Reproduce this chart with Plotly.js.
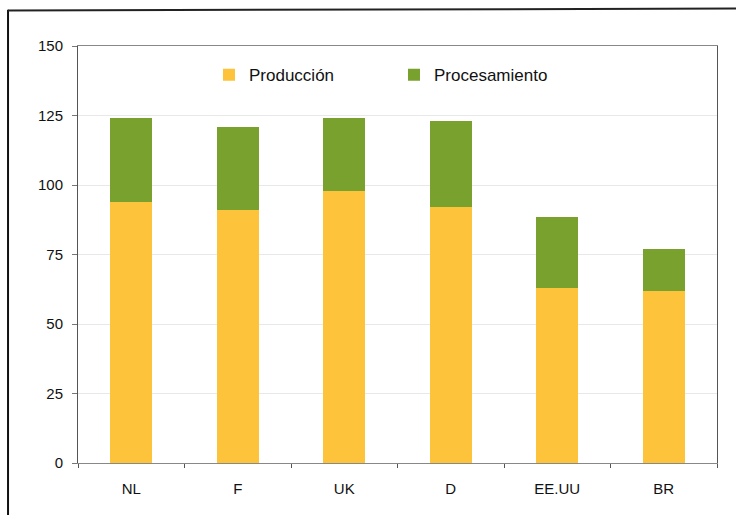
<!DOCTYPE html>
<html>
<head>
<meta charset="utf-8">
<script src="https://cdn.plot.ly/plotly-3.0.1.min.js"></script>
<style>
  html, body { margin: 0; padding: 0; background: #ffffff; }
  #chart { width: 736px; height: 515px; }
</style>
</head>
<body>
<div id="chart"></div>
<script>
// Countries on the category axis
const paises = ["NL", "F", "UK", "D", "EE.UU", "BR"];
// Stacked components per country
const produccion = [94, 91, 98, 92, 63, 62];
const procesamiento = [30, 30, 26, 31, 25.5, 15];
// Value axis ticks
const yTicks = [0, 25, 50, 75, 100, 125, 150];

const FONT = "Liberation Sans, Arial, sans-serif";

const traces = [
  {
    type: "bar",
    name: "Producción",
    x: paises,
    y: produccion,
    marker: { color: "#fdc33a" },
    width: 0.39
  },
  {
    type: "bar",
    name: "Procesamiento",
    x: paises,
    y: procesamiento,
    marker: { color: "#78a22d" },
    width: 0.39
  }
];

const layout = {
  width: 736,
  height: 515,
  barmode: "stack",
  paper_bgcolor: "#ffffff",
  plot_bgcolor: "#ffffff",
  margin: { l: 78, r: 19, t: 46, b: 52 },
  font: { family: FONT, size: 15, color: "#111111" },
  showlegend: true,
  legend: {
    orientation: "h",
    x: 0.205,
    xanchor: "left",
    y: 0.93,
    yanchor: "middle",
    entrywidth: 140,
    entrywidthmode: "pixels",
    itemwidth: 30,
    font: { family: FONT, size: 17, color: "#111111" },
    bgcolor: "rgba(0,0,0,0)",
    traceorder: "normal"
  },
  xaxis: {
    type: "category",
    tickson: "boundaries",
    ticks: "outside",
    ticklen: 4,
    tickcolor: "#555555",
    ticklabelstandoff: 12,
    showline: true,
    linecolor: "#888888",
    linewidth: 1,
    mirror: true,
    showgrid: false,
    tickfont: { family: FONT, size: 15, color: "#111111" },
    fixedrange: true
  },
  yaxis: {
    range: [0, 150],
    tickvals: yTicks,
    ticktext: yTicks.map(String),
    ticks: "outside",
    ticklen: 5,
    tickcolor: "#777777",
    ticklabelstandoff: 6,
    showline: true,
    linecolor: "#555555",
    linewidth: 1,
    mirror: true,
    showgrid: true,
    gridcolor: "#e8e8e8",
    gridwidth: 1,
    zeroline: false,
    tickfont: { family: FONT, size: 15, color: "#111111" },
    fixedrange: true
  },
  shapes: [
    // outer frame: left and top edges
    {
      type: "line", xref: "paper", yref: "paper",
      x0: -0.1095, x1: -0.1095, y0: 1.087, y1: -0.15,
      line: { color: "#111111", width: 2 }
    },
    {
      type: "line", xref: "paper", yref: "paper",
      x0: -0.1095, x1: 1.04, y0: 1.085, y1: 1.09,
      line: { color: "#222222", width: 2 }
    }
  ]
};

Plotly.newPlot("chart", traces, layout, { displayModeBar: false, staticPlot: true });
</script>
</body>
</html>
